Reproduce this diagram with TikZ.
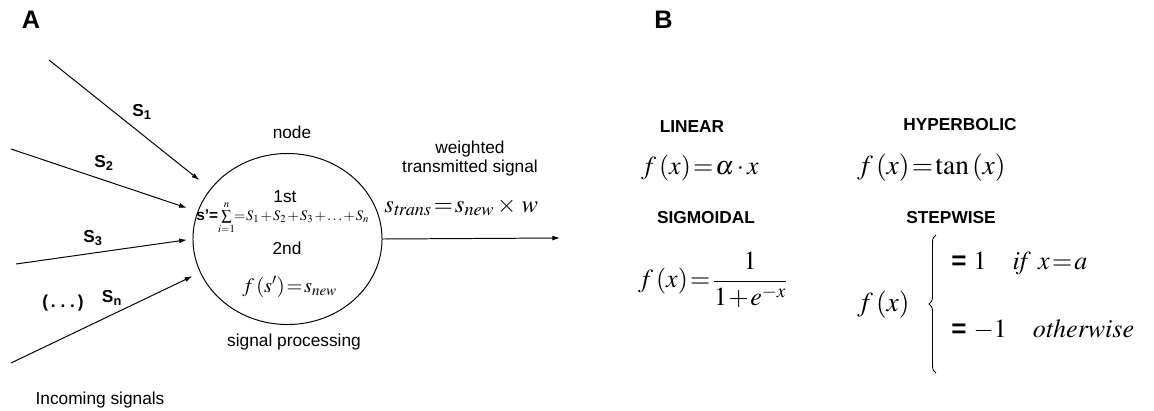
\documentclass[tikz,border=0pt]{standalone}
\usepackage{amsmath}
\usepackage{mathptmx}
\usepackage[no-math]{fontspec}
\setmainfont{Liberation Sans}
\usetikzlibrary{arrows.meta,positioning,shapes.geometric,decorations.pathreplacing}
\newcommand{\tightm}{\thickmuskip=1.5mu\relax\medmuskip=2mu\relax}

\begin{document}
\begin{tikzpicture}[x=0.025cm,y=-0.025cm,
  lbl/.style={font=\fontsize{12.3}{13.5}\selectfont,inner sep=0pt},
  hd/.style={font=\fontsize{12.3}{14}\selectfont\bfseries,inner sep=0pt},
  pnl/.style={font=\fontsize{18}{20}\selectfont\bfseries,inner sep=0pt},
  eqn/.style={font=\fontsize{19.5}{22}\selectfont,inner sep=0pt,anchor=west},
  sig/.style={-{Latex[length=5.5pt,width=3.5pt]},line width=0.7pt}]
\useasboundingbox (0,0) rectangle (1154,410);

% panel A
\node[pnl] (pa) at (31,20) {A};
\node[ellipse,draw,line width=0.7pt,inner sep=0pt,minimum width=4.725cm,minimum height=4.275cm] (nd) at (287.5,239) {};
\node[lbl] (ndlbl) at (292,132) {node};
\node[lbl] (first) at (285,197) {1st};
\node[inner sep=0pt,anchor=west,font=\fontsize{11}{13}\selectfont] (sum) at (196,218)
  {\textbf{s’=}{\fontsize{10.3}{12}\selectfont\thickmuskip=1mu\relax\medmuskip=1.5mu\relax$\sum\limits_{i=1}^{n}\!=S_1+S_2+S_3+\ldots+S_n$}};
\node[lbl] (second) at (287,248) {2nd};
\node[inner sep=0pt,anchor=west,font=\fontsize{14.5}{16}\selectfont] (fsn) at (242,287) {\tightm$f\,(s')=s_{\mathit{new}}$};
\node[lbl] (proc) at (294,342) {signal processing};
\node[lbl] (inc) at (100,400) {Incoming signals};

\coordinate (in1) at (49,60);
\coordinate (in2) at (11,149);
\coordinate (in3) at (16,264);
\coordinate (inn) at (11,363);
\draw[sig,shorten >=10pt] (in1) -- (nd.147);
\draw[sig,shorten >=8pt] (in2) -- (nd.163);
\draw[sig,shorten >=4pt] (in3) -- (nd.180);
\draw[sig,shorten >=6pt] (inn) -- (nd.201);
\node[hd] (s1) at (142,112) {S\textsubscript{1}};
\node[hd] (s2) at (104,163) {S\textsubscript{2}};
\node[hd] (s3) at (93,238) {S\textsubscript{3}};
\node[hd] (dots) at (63,303) {(\,.\ .\ .\,)};
\node[hd] (sn) at (112,298) {S\textsubscript{n}};

\coordinate (out) at (560,238);
\draw[sig] (nd.east) -- (out);
\node[lbl,align=center] (wlbl) at (470,158.5) {weighted\\transmitted signal};
\node[eqn,font=\fontsize{17.5}{20}\selectfont] (strans) at (384,207)
  {\tightm$s_{\mathit{trans}}=s_{\mathit{new}}\times\,w$};

% panel B
\node[pnl] (pb) at (663.5,20) {B};
\node[hd] (lin) at (692,127) {LINEAR};
\node[eqn,font=\fontsize{18.5}{22}\selectfont] (flin) at (641,168) {\tightm$f\,(x)=\alpha\cdot x$};
\node[hd] (hyp) at (960,125) {HYPERBOLIC};
\node[eqn] (fhyp) at (857,168) {\tightm$f\,(x)=\tan\,(x)$};
\node[hd] (sgm) at (706,218) {SIGMOIDAL};
\node[eqn,font=\fontsize{18.5}{22}\selectfont] (fsgm) at (638,280) {\thickmuskip=1.5mu\relax\medmuskip=1mu\relax$f\,(x)=\dfrac{1}{1+e^{-x}}$};
\node[hd] (stp) at (951,218) {STEPWISE};
\node[eqn] (fstp) at (857,305) {\tightm$f\,(x)$};
\coordinate (brlo) at (936,373);
\coordinate (brhi) at (936,235);
\draw[decorate,decoration={brace,amplitude=5pt},line width=0.6pt] (brlo) -- (brhi);
\node[eqn,font=\fontsize{18.5}{22}\selectfont] (case1) at (951,263) {\tightm\textbf{=}\ $1\quad\mathit{if}\ x=a$};
\node[eqn,font=\fontsize{18.5}{22}\selectfont] (case2) at (951,330) {\tightm\textbf{=}\ $-1\quad\mathit{otherwise}$};
\end{tikzpicture}
\end{document}
